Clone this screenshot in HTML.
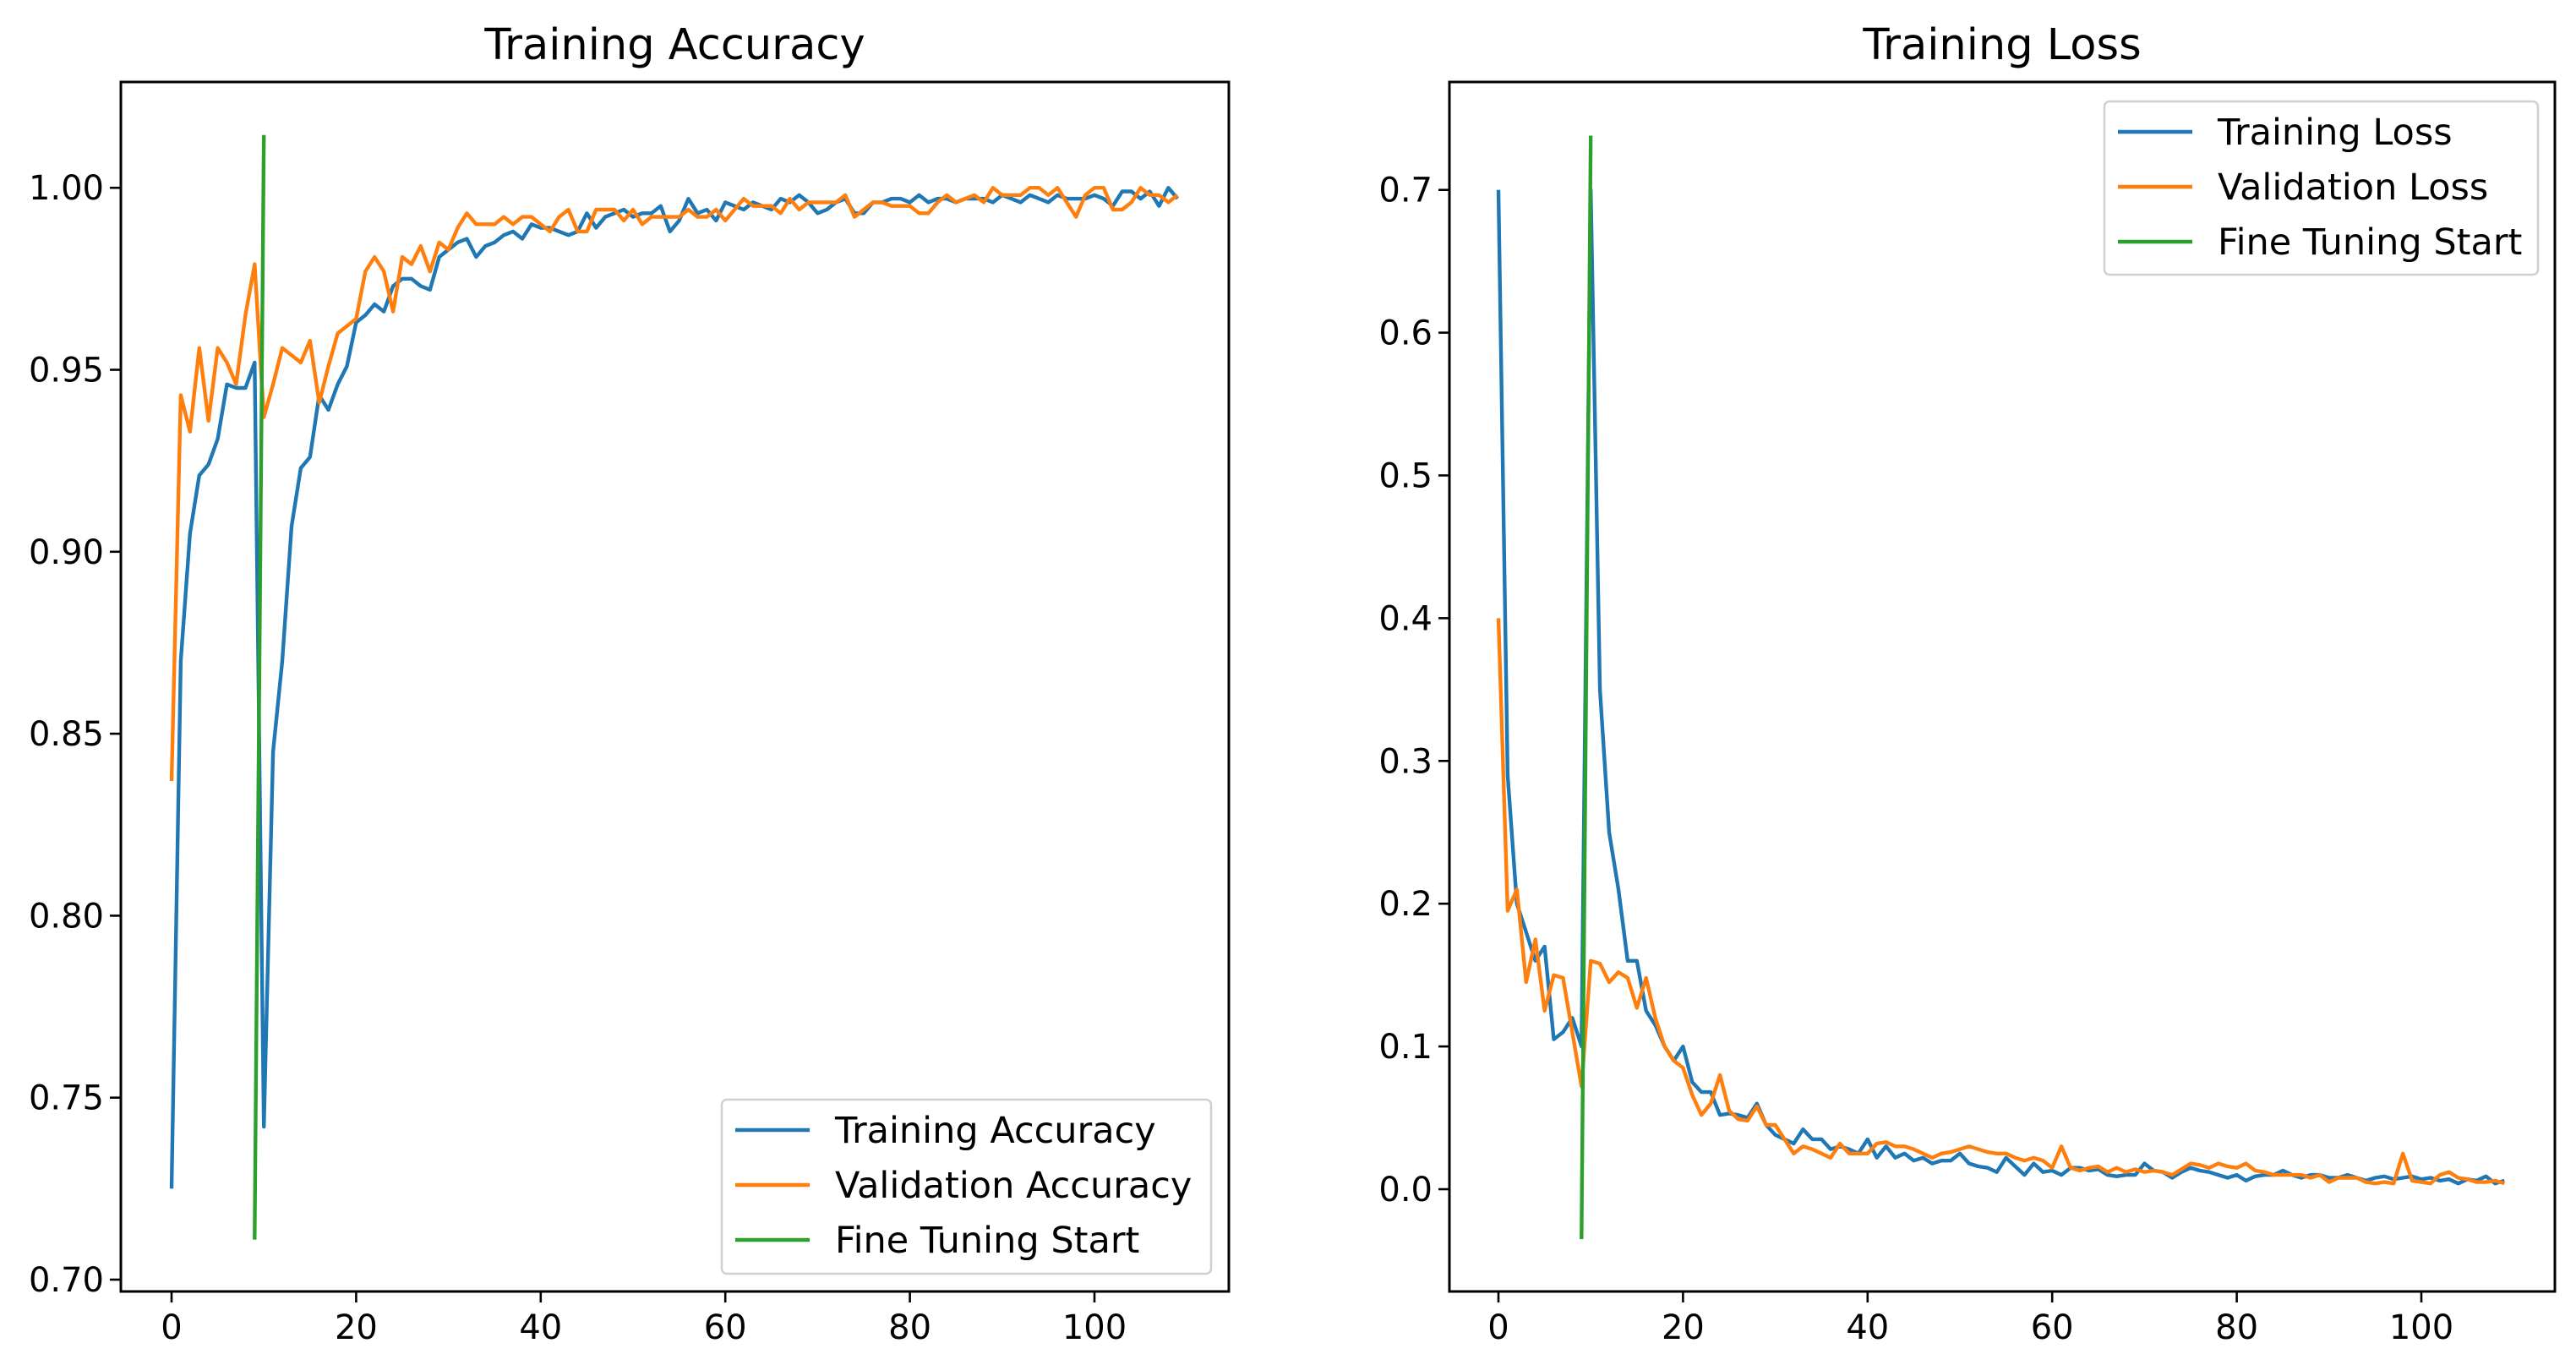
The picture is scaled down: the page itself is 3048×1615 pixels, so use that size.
<!DOCTYPE html>
<html><head><meta charset="utf-8"><style>
html,body{margin:0;padding:0;background:#fff;}
svg{display:block;font-family:"DejaVu Sans","Liberation Sans",sans-serif;}
</style></head><body>
<svg id="chart" width="3048" height="1615" viewBox="0 0 3048 1615">
<rect width="3048" height="1615" fill="#fff"/>
</svg>
<script>
const epochs = Array.from({length:110},(_,i)=>i);
const trainAcc = [0.725,0.87,0.905,0.921,0.924,0.931,0.946,0.945,0.945,0.952,0.742,0.845,0.87,0.907,0.923,0.926,0.943,0.939,0.946,0.951,0.963,0.965,0.968,0.966,0.973,0.975,0.975,0.973,0.972,0.981,0.983,0.985,0.986,0.981,0.984,0.985,0.987,0.988,0.986,0.99,0.989,0.989,0.988,0.987,0.988,0.993,0.989,0.992,0.993,0.994,0.992,0.993,0.993,0.995,0.988,0.991,0.997,0.993,0.994,0.991,0.996,0.995,0.994,0.996,0.995,0.994,0.997,0.996,0.998,0.996,0.993,0.994,0.996,0.997,0.993,0.993,0.996,0.996,0.997,0.997,0.996,0.998,0.996,0.997,0.997,0.996,0.997,0.997,0.997,0.996,0.998,0.997,0.996,0.998,0.997,0.996,0.998,0.997,0.997,0.997,0.998,0.997,0.995,0.999,0.999,0.997,0.999,0.995,1.0,0.997];
const valAcc = [0.837,0.943,0.933,0.956,0.936,0.956,0.952,0.946,0.965,0.979,0.937,0.946,0.956,0.954,0.952,0.958,0.941,0.951,0.96,0.962,0.964,0.977,0.981,0.977,0.966,0.981,0.979,0.984,0.977,0.985,0.983,0.989,0.993,0.99,0.99,0.99,0.992,0.99,0.992,0.992,0.99,0.988,0.992,0.994,0.988,0.988,0.994,0.994,0.994,0.991,0.994,0.99,0.992,0.992,0.992,0.992,0.994,0.992,0.992,0.994,0.991,0.994,0.997,0.995,0.995,0.995,0.993,0.997,0.994,0.996,0.996,0.996,0.996,0.998,0.992,0.994,0.996,0.996,0.995,0.995,0.995,0.993,0.993,0.996,0.998,0.996,0.997,0.998,0.996,1.0,0.998,0.998,0.998,1.0,1.0,0.998,1.0,0.996,0.992,0.998,1.0,1.0,0.994,0.994,0.996,1.0,0.998,0.998,0.996,0.998];
const trainLoss = [0.70,0.29,0.20,0.18,0.16,0.17,0.105,0.11,0.12,0.10,0.70,0.35,0.25,0.21,0.16,0.16,0.125,0.115,0.10,0.09,0.10,0.075,0.068,0.068,0.052,0.053,0.052,0.05,0.06,0.045,0.038,0.035,0.032,0.042,0.035,0.035,0.028,0.03,0.028,0.025,0.035,0.022,0.03,0.022,0.025,0.02,0.022,0.018,0.02,0.02,0.025,0.018,0.016,0.015,0.012,0.022,0.016,0.01,0.018,0.012,0.013,0.01,0.015,0.015,0.013,0.014,0.01,0.009,0.01,0.01,0.018,0.013,0.012,0.008,0.012,0.015,0.013,0.012,0.01,0.008,0.01,0.006,0.009,0.01,0.01,0.013,0.01,0.008,0.01,0.01,0.008,0.008,0.01,0.008,0.006,0.008,0.009,0.007,0.008,0.009,0.007,0.008,0.006,0.007,0.004,0.007,0.006,0.009,0.004,0.006];
const valLoss = [0.40,0.195,0.21,0.145,0.175,0.125,0.15,0.148,0.11,0.072,0.16,0.158,0.145,0.152,0.148,0.127,0.148,0.12,0.10,0.09,0.085,0.066,0.052,0.06,0.08,0.055,0.049,0.048,0.058,0.045,0.045,0.035,0.025,0.03,0.028,0.025,0.022,0.032,0.025,0.025,0.025,0.032,0.033,0.03,0.03,0.028,0.025,0.022,0.025,0.026,0.028,0.03,0.028,0.026,0.025,0.025,0.022,0.02,0.022,0.02,0.015,0.03,0.015,0.013,0.015,0.016,0.012,0.015,0.012,0.014,0.012,0.013,0.012,0.01,0.014,0.018,0.017,0.015,0.018,0.016,0.015,0.018,0.013,0.012,0.01,0.01,0.01,0.01,0.008,0.01,0.005,0.008,0.008,0.008,0.005,0.004,0.005,0.004,0.025,0.006,0.005,0.004,0.01,0.012,0.008,0.007,0.005,0.005,0.006,0.004];
const fineTuneX = [9,10];
const fineTuneAcc = [0.711,1.0145];
const fineTuneLoss = [-0.035,0.738];
const xTicks = [0,20,40,60,80,100];
const accTicks = [0.70,0.75,0.80,0.85,0.90,0.95,1.00];
const accTickLabels = ["0.70","0.75","0.80","0.85","0.90","0.95","1.00"];
const lossTicks = [0,0.1,0.2,0.3,0.4,0.5,0.6,0.7];
const lossTickLabels = ["0.0","0.1","0.2","0.3","0.4","0.5","0.6","0.7"];

const NS="http://www.w3.org/2000/svg";
const svg=document.getElementById('chart');
function mk(tag,attrs,parent){const e=document.createElementNS(NS,tag);for(const k in attrs)e.setAttribute(k,attrs[k]);(parent||svg).appendChild(e);return e;}

function panel(cfg){
  const g=mk('g',{});
  
  
  const xs=v=>cfg.x0px+(v)*cfg.xUnit;
  const ys=v=>cfg.yRefPx+(v-cfg.yRef)*cfg.yUnit;
  const t=mk('text',{x:(cfg.L+cfg.R)/2,y:70,'text-anchor':'middle','font-size':51,fill:'#000'},g);
  t.textContent=cfg.title;
  
  
  const series=[[cfg.train,'#1f77b4','training-line'],[cfg.val,'#ff7f0e','validation-line']];
  series.forEach(([arr,col,nm])=>{
    const p=mk('polyline',{points:arr.map((v,i)=>xs(epochs[i]).toFixed(1)+','+ys(v).toFixed(1)).join(' '),fill:'none',stroke:col,'stroke-width':4.4,'stroke-linejoin':'round'},g);
    
    
  });
  const f=mk('polyline',{points:fineTuneX.map((x,i)=>xs(x)+','+ys(cfg.ft[i])).join(' '),fill:'none',stroke:'#2ca02c','stroke-width':4.4},g);
  
  
  const fr=mk('rect',{x:cfg.L,y:cfg.T,width:cfg.R-cfg.L,height:cfg.B-cfg.T,fill:'none',stroke:'#000','stroke-width':3},g);
  
  
  xTicks.forEach(v=>{
    const x=xs(v);
    mk('line',{x1:x,x2:x,y1:cfg.B,y2:cfg.B+13,stroke:'#000','stroke-width':2.6},g);
    const tx=mk('text',{x:x,y:cfg.B+56,'text-anchor':'middle','font-size':40,fill:'#000'},g);
    tx.textContent=String(v);
    
    
  });
  cfg.yTicks.forEach((v,i)=>{
    const y=ys(v);
    mk('line',{x1:cfg.L-13,x2:cfg.L,y1:y,y2:y,stroke:'#000','stroke-width':2.6},g);
    const ty=mk('text',{x:cfg.L-20,y:y+14,'text-anchor':'end','font-size':40,fill:'#000'},g);
    ty.textContent=cfg.yLabels[i];
    
    
  });
  const lg=mk('g',{},g);
  
  
  mk('rect',{x:cfg.lg.x,y:cfg.lg.y,width:cfg.lg.w,height:cfg.lg.h,rx:6,fill:'#fff','fill-opacity':0.85,stroke:'#d0d0d0','stroke-width':2.5},lg);
  const cols=['#1f77b4','#ff7f0e','#2ca02c'];
  cfg.lg.labels.forEach((lab,i)=>{
    const yy=cfg.lg.y+36+i*65;
    mk('line',{x1:cfg.lg.x+16,x2:cfg.lg.x+104,y1:yy,y2:yy,stroke:cols[i],'stroke-width':4.4},lg);
    const tt=mk('text',{x:cfg.lg.x+134,y:yy+15,'font-size':43,fill:'#000'},lg);
    tt.textContent=lab;
    
    
  });
}

panel({name:'accuracy-chart',title:'Training Accuracy',L:143,R:1454,T:97,B:1528,
  x0px:203,xUnit:10.92,yRef:0.70,yRefPx:1514,yUnit:-4306,
  train:trainAcc,val:valAcc,ft:fineTuneAcc,yTicks:accTicks,yLabels:accTickLabels,
  lg:{x:854,y:1301,w:579,h:206,labels:['Training Accuracy','Validation Accuracy','Fine Tuning Start']}});
panel({name:'loss-chart',title:'Training Loss',L:1715,R:3023,T:97,B:1528,
  x0px:1773,xUnit:10.92,yRef:0,yRefPx:1407,yUnit:-1689,
  train:trainLoss,val:valLoss,ft:fineTuneLoss,yTicks:lossTicks,yLabels:lossTickLabels,
  lg:{x:2490,y:120,w:513,h:205,labels:['Training Loss','Validation Loss','Fine Tuning Start']}});
</script>
</body></html>
